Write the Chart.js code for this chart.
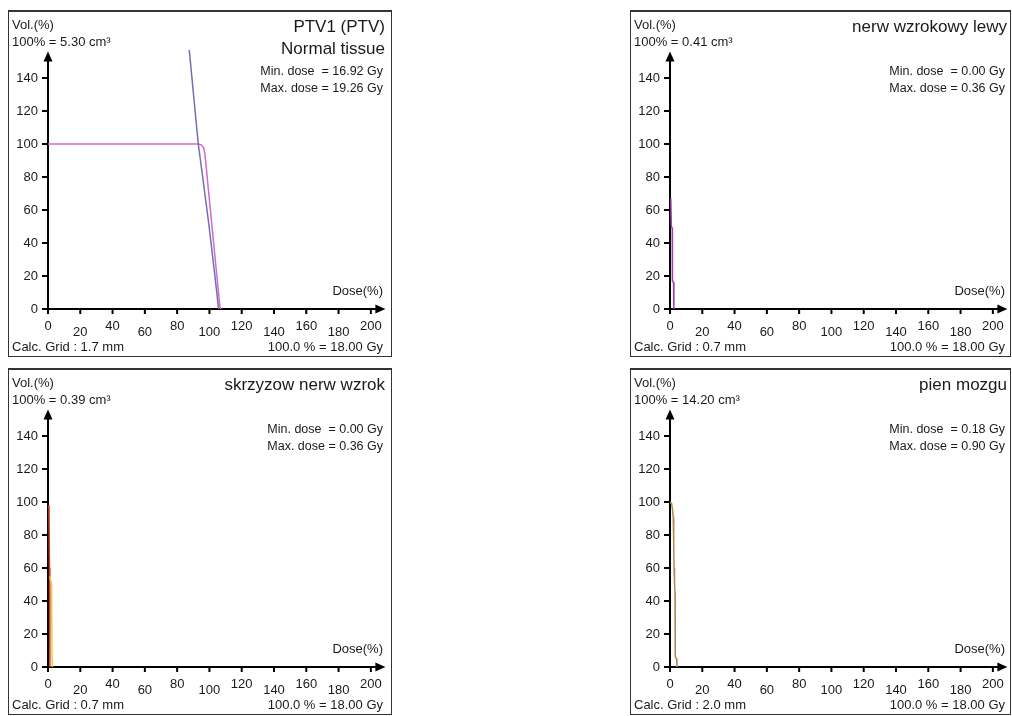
<!DOCTYPE html>
<html>
<head>
<meta charset="utf-8">
<script src="https://cdn.jsdelivr.net/npm/chart.js@4"></script>
<style>
  html, body { margin:0; padding:0; background:#fff; }
  body { width:1012px; height:716px; overflow:hidden; position:relative; }
  .panel { position:absolute; }
  .panel canvas { display:block; }
</style>
</head>
<body>
<div class="panel" id="p1" style="left:8px;top:10px;width:384px;height:347px;"><canvas id="c1"></canvas></div>
<div class="panel" id="p2" style="left:630px;top:10px;width:381px;height:347px;"><canvas id="c2"></canvas></div>
<div class="panel" id="p3" style="left:8px;top:368px;width:384px;height:347px;"><canvas id="c3"></canvas></div>
<div class="panel" id="p4" style="left:630px;top:368px;width:381px;height:347px;"><canvas id="c4"></canvas></div>
<script>
// ---- tick labels ----
const doseTicks = [0, 20, 40, 60, 80, 100, 120, 140, 160, 180, 200];
const volTicks = [0, 20, 40, 60, 80, 100, 120, 140];

// ---- panel 1: PTV1 (PTV) / Normal tissue ----
const ptvDose = [0, 93, 95, 96.5, 97.2, 99.6, 102.1, 104.6, 106.5, 107];
const ptvVol  = [100, 100, 99.5, 97.5, 94, 70, 45, 20, 1.5, 0];
const normalDose = [87.5, 93.1, 96.5, 99.8, 102.8, 104.8, 105.6];
const normalVol  = [157, 100, 75, 50, 25, 8, 0];

// ---- panel 2: nerw wzrokowy lewy ----
const nerveLDose = [0.5, 0.8, 1.4, 1.5, 2.2, 2.4];
const nerveLVol  = [67, 50, 49, 17, 16, 0];

// ---- panel 3: skrzyzow nerw wzrok ----
const chiasmDose = [0, 0.6, 0.9, 1.1, 1.2];
const chiasmVol  = [98, 97, 60, 5, 0];
const chiasm2Dose = [1.1, 2.2, 2.5, 2.7];
const chiasm2Vol  = [55, 50, 5, 0];

// ---- panel 4: pien mozgu ----
const stemDose = [0, 1, 1.5, 2, 2.3, 2.5, 2.8, 3.1, 3.2, 3.3, 4.1, 4.3];
const stemVol  = [100, 99, 96, 91, 75, 60, 51, 45, 20, 6, 5, 0];

const panels = [
  { id:'c1', width:384, titles:['PTV1 (PTV)', 'Normal tissue'], volRef:'100% = 5.30 cm\u00b3',
    minDose:'Min. dose  = 16.92 Gy', maxDose:'Max. dose = 19.26 Gy', grid:'Calc. Grid : 1.7 mm',
    series:[ {dose:normalDose, vol:normalVol, color:'#6f6fb4'}, {dose:ptvDose, vol:ptvVol, color:'#d069cf'} ] },
  { id:'c2', width:381, titles:['nerw wzrokowy lewy'], volRef:'100% = 0.41 cm\u00b3',
    minDose:'Min. dose  = 0.00 Gy', maxDose:'Max. dose = 0.36 Gy', grid:'Calc. Grid : 0.7 mm',
    series:[ {dose:nerveLDose, vol:nerveLVol, color:'#9a3fae'} ] },
  { id:'c3', width:384, titles:['skrzyzow nerw wzrok'], volRef:'100% = 0.39 cm\u00b3',
    minDose:'Min. dose  = 0.00 Gy', maxDose:'Max. dose = 0.36 Gy', grid:'Calc. Grid : 0.7 mm',
    series:[ {dose:chiasm2Dose, vol:chiasm2Vol, color:'#f2c84a'}, {dose:chiasmDose, vol:chiasmVol, color:'#c8401c'} ] },
  { id:'c4', width:381, titles:['pien mozgu'], volRef:'100% = 14.20 cm\u00b3',
    minDose:'Min. dose  = 0.18 Gy', maxDose:'Max. dose = 0.90 Gy', grid:'Calc. Grid : 2.0 mm',
    series:[ {dose:stemDose, vol:stemVol, color:'#b08a55'} ] }
];

const FONT = '"Liberation Sans", Arial, sans-serif';

const dvhPlugin = {
  id: 'dvh',
  beforeDatasetsDraw(chart) {
    const cfg = chart.options.plugins.dvh;
    const ctx = chart.ctx, xs = chart.scales.x, ys = chart.scales.y;
    const W = chart.width, H = chart.height;
    ctx.save();
    // panel border
    ctx.strokeStyle = '#333';
    ctx.lineWidth = 1;
    ctx.strokeRect(0.5, 0.5, W - 1, H - 1);
    ctx.beginPath(); ctx.moveTo(0, 1.5); ctx.lineTo(W, 1.5); ctx.stroke();

    const x0 = xs.getPixelForValue(0), y0 = ys.getPixelForValue(0);
    const yTip = ys.getPixelForValue(156), xTip = xs.getPixelForValue(209);
    ctx.strokeStyle = '#000'; ctx.fillStyle = '#000'; ctx.lineWidth = 2;
    // axes
    ctx.beginPath();
    ctx.moveTo(x0, y0 + 1); ctx.lineTo(x0, yTip + 6);
    ctx.moveTo(x0 - 1, y0); ctx.lineTo(xTip - 6, y0);
    ctx.stroke();
    // arrow heads
    ctx.beginPath();
    ctx.moveTo(x0, yTip); ctx.lineTo(x0 - 4.5, yTip + 10); ctx.lineTo(x0 + 4.5, yTip + 10); ctx.closePath(); ctx.fill();
    ctx.beginPath();
    ctx.moveTo(xTip, y0); ctx.lineTo(xTip - 10, y0 - 4.5); ctx.lineTo(xTip - 10, y0 + 4.5); ctx.closePath(); ctx.fill();
    // tick marks
    ctx.beginPath();
    volTicks.forEach(v => { const y = ys.getPixelForValue(v); ctx.moveTo(x0 - 6, y); ctx.lineTo(x0, y); });
    doseTicks.forEach(d => { const x = xs.getPixelForValue(d); ctx.moveTo(x, y0); ctx.lineTo(x, y0 + 5); });
    ctx.stroke();

    // tick labels
    ctx.fillStyle = '#1a1a1a';
    ctx.font = '13px ' + FONT;
    ctx.textAlign = 'right'; ctx.textBaseline = 'middle';
    volTicks.forEach(v => ctx.fillText(String(v), x0 - 10, ys.getPixelForValue(v) + 0.5));
    ctx.textAlign = 'center';
    doseTicks.forEach((d, i) => ctx.fillText(String(d), xs.getPixelForValue(d), y0 + (i % 2 === 0 ? 17 : 23.5)));

    // left header
    ctx.textAlign = 'left';
    ctx.fillText('Vol.(%)', 4, 15);
    ctx.fillText(cfg.volRef, 4, 32.5);
    // title(s)
    ctx.textAlign = 'right';
    ctx.font = '17px ' + FONT;
    cfg.titles.forEach((t, i) => ctx.fillText(t, 377, 17.5 + i * 21.5));
    ctx.font = '12.5px ' + FONT;
    ctx.fillText(cfg.minDose, 375, 62);
    ctx.fillText(cfg.maxDose, 375, 79);
    ctx.font = '13px ' + FONT;
    ctx.fillText('Dose(%)', 375, 281);
    ctx.fillText('100.0 % = 18.00 Gy', 375, 337);
    ctx.textAlign = 'left';
    ctx.fillText(cfg.grid, 4, 337);
    ctx.restore();
  }
};

panels.forEach(p => {
  new Chart(document.getElementById(p.id), {
    type: 'scatter',
    data: {
      datasets: p.series.map(s => ({
        data: s.dose.map((d, i) => ({ x: d, y: s.vol[i] })),
        showLine: true,
        borderColor: s.color,
        backgroundColor: s.color,
        borderWidth: 1.5,
        pointRadius: 0,
        pointHoverRadius: 0,
        tension: 0,
        clip: false
      }))
    },
    options: {
      responsive: true,
      maintainAspectRatio: false,
      devicePixelRatio: 1,
      animation: false,
      events: [],
      layout: { padding: { left: 40, right: p.width - 379, top: 35, bottom: 48 } },
      scales: {
        x: { type: 'linear', min: 0, max: 210, display: false },
        y: { type: 'linear', min: 0, max: 160, display: false }
      },
      plugins: {
        legend: { display: false },
        tooltip: { enabled: false },
        dvh: p
      }
    },
    plugins: [dvhPlugin]
  });
});
</script>
</body>
</html>
